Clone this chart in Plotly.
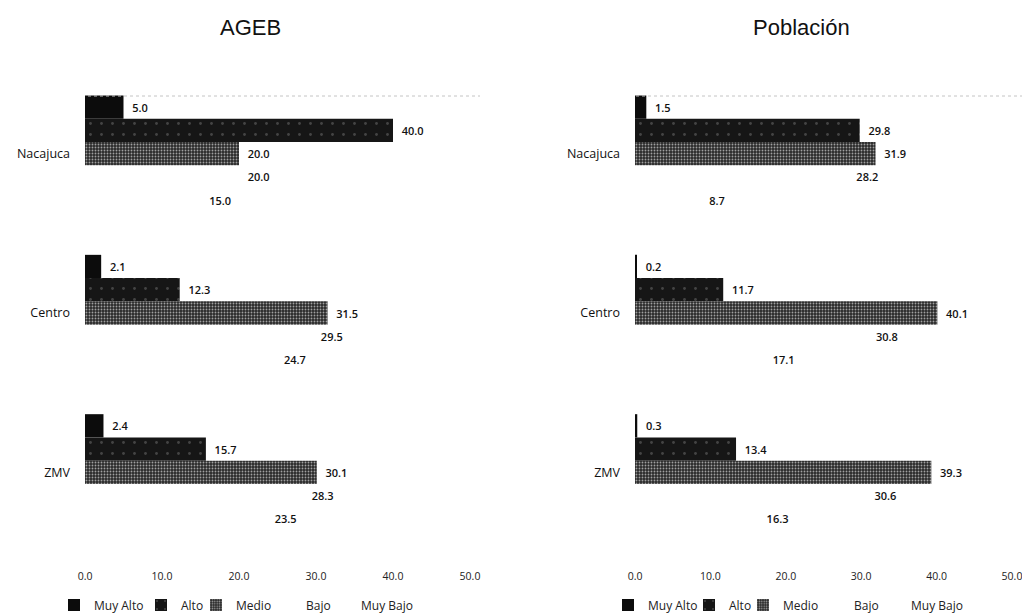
import plotly.graph_objects as go

categories = ["Nacajuca", "Centro", "ZMV"]
series_names = ["Muy Alto", "Alto", "Medio", "Bajo", "Muy Bajo"]

ageb_muy_alto = [5.0, 2.1, 2.4]
ageb_alto = [40.0, 12.3, 15.7]
ageb_medio = [20.0, 31.5, 30.1]
ageb_bajo = [20.0, 29.5, 28.3]
ageb_muy_bajo = [15.0, 24.7, 23.5]

pob_muy_alto = [1.5, 0.2, 0.3]
pob_alto = [29.8, 11.7, 13.4]
pob_medio = [31.9, 40.1, 39.3]
pob_bajo = [28.2, 30.8, 30.6]
pob_muy_bajo = [8.7, 17.1, 16.3]

x_ticks = [0, 10, 20, 30, 40, 50]

ageb = [ageb_muy_alto, ageb_alto, ageb_medio, ageb_bajo, ageb_muy_bajo]
pob = [pob_muy_alto, pob_alto, pob_medio, pob_bajo, pob_muy_bajo]

styles = [
    dict(color="#0c0c0c", pattern=dict(shape="")),
    dict(color="#161616", pattern=dict(shape=".", fgcolor="#444444", bgcolor="#161616", size=11, solidity=0.05)),
    dict(color="#333333", pattern=dict(shape=".", fgcolor="#a0a0a0", bgcolor="#2a2a2a", size=3, solidity=0.3)),
    dict(color="rgba(255,255,255,0)", pattern=dict(shape="")),
    dict(color="rgba(255,255,255,0)", pattern=dict(shape="")),
]

# legend entry widths (px) so that entries sit where the reference puts them
legend_widths_left = [42, 10, 25, 10, 60]
legend_widths_right = [36, 9, 26, 12, 60]

W, H = 1030, 614
OFF = 8  # page body margin offset
FONT = "Open Sans"

fig = go.Figure()
for i, name in enumerate(series_names):
    st = styles[i]
    for data, xa, ya, lg, lw in [(ageb, "x", "y", "legend", legend_widths_left[i]),
                                 (pob, "x2", "y2", "legend2", legend_widths_right[i])]:
        fig.add_trace(go.Bar(
            name=name, y=categories, x=data[i], orientation="h",
            xaxis=xa, yaxis=ya, legend=lg, legendwidth=lw,
            marker=dict(color=st["color"], pattern=st["pattern"], line=dict(width=0)),
            texttemplate="\u00a0\u00a0%{x:.1f}", textposition="outside", cliponaxis=False,
            textfont=dict(family=FONT, size=11, color="#111111", weight=600),
        ))

def px_x(p):
    return (p - OFF) / W

def px_y(p):
    return 1 - (p - OFF) / H

ydom = [px_y(552), px_y(74)]
xaxis_common = dict(range=[0, 50], tickvals=x_ticks, tickformat=".1f", showgrid=False,
                    zeroline=False, showline=False, ticks="", ticklabelstandoff=16,
                    automargin=False,
                    tickfont=dict(family=FONT, size=10.5, color="#222222"))
yaxis_common = dict(autorange="reversed", showgrid=False, zeroline=False, showline=False,
                    ticks="", ticklabelstandoff=14, automargin=False,
                    tickfont=dict(family=FONT, size=12.5, color="#111111"))

legend_common = dict(orientation="h", yanchor="middle", xanchor="left", itemwidth=30,
                     font=dict(family=FONT, size=12, color="#222222"),
                     bgcolor="rgba(0,0,0,0)", traceorder="normal", borderwidth=0)

fig.update_layout(
    template="none",
    width=W, height=H, margin=dict(l=0, r=0, t=0, b=0, autoexpand=False),
    paper_bgcolor="white", plot_bgcolor="white",
    barmode="group", bargap=0.27, bargroupgap=0,
    xaxis=dict(domain=[px_x(85), px_x(470)], anchor="y", **xaxis_common),
    yaxis=dict(domain=ydom, anchor="x", **yaxis_common),
    xaxis2=dict(domain=[px_x(635), px_x(1012)], anchor="y2", **xaxis_common),
    yaxis2=dict(domain=ydom, anchor="x2", **yaxis_common),
    legend=dict(x=px_x(54), y=px_y(605), **legend_common),
    legend2=dict(x=px_x(608), y=px_y(605), **legend_common),
    annotations=[
        dict(text="AGEB", x=px_x(250), y=px_y(27), xref="paper", yref="paper",
             xanchor="center", yanchor="middle",
             showarrow=False, font=dict(family="Liberation Sans", size=22, color="#111111")),
        dict(text="Población", x=px_x(801), y=px_y(27), xref="paper", yref="paper",
             xanchor="center", yanchor="middle",
             showarrow=False, font=dict(family="Liberation Sans", size=22, color="#111111")),
    ],
    shapes=[
        dict(type="line", xref="paper", yref="paper", x0=px_x(88), x1=px_x(480),
             y0=px_y(96), y1=px_y(96), line=dict(color="#c4c4c4", width=1, dash="dot")),
        dict(type="line", xref="paper", yref="paper", x0=px_x(636), x1=px_x(1024),
             y0=px_y(96), y1=px_y(96), line=dict(color="#c4c4c4", width=1, dash="dot")),
        dict(type="line", xref="paper", yref="paper", x0=px_x(1025), x1=px_x(1025),
             y0=px_y(96), y1=px_y(540), line=dict(color="#cccccc", width=1, dash="dot")),
    ],
)

fig.write_html("out.html")
